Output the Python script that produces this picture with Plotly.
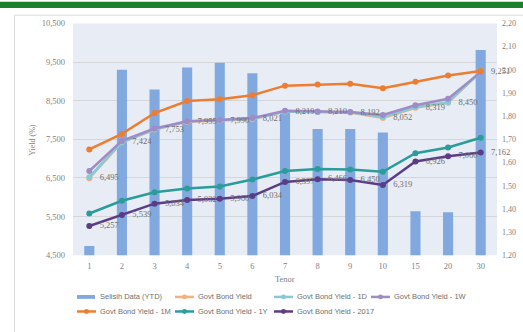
import plotly.graph_objects as go

W, H = 523, 332

tenors = ["1", "2", "3", "4", "5", "6", "7", "8", "9", "10", "15", "20", "30"]
selisih_ytd = [1.24, 2.00, 1.915, 2.01, 2.03, 1.985, 1.82, 1.745, 1.745, 1.73, 1.39, 1.385, 2.085]
yield_now = [6.495, 7.424, 7.753, 7.955, 7.990, 8.021, 8.219, 8.210, 8.192, 8.052, 8.319, 8.450, 9.251]
yield_1d = [6.52, 7.43, 7.76, 7.96, 8.00, 8.03, 8.22, 8.21, 8.20, 8.08, 8.33, 8.46, 9.25]
yield_1w = [6.68, 7.46, 7.78, 7.97, 8.00, 8.05, 8.24, 8.22, 8.21, 8.13, 8.38, 8.55, 9.24]
yield_1m = [7.24, 7.64, 8.18, 8.49, 8.54, 8.64, 8.89, 8.92, 8.94, 8.82, 8.99, 9.15, 9.27]
yield_1y = [5.58, 5.91, 6.13, 6.23, 6.28, 6.46, 6.68, 6.73, 6.72, 6.66, 7.14, 7.29, 7.54]
yield_2017 = [5.257, 5.539, 5.834, 5.932, 5.960, 6.034, 6.397, 6.466, 6.450, 6.319, 6.926, 7.060, 7.162]

left_ticks = [4.5, 5.5, 6.5, 7.5, 8.5, 9.5, 10.5]
left_labels = ["4,500", "5,500", "6,500", "7,500", "8,500", "9,500", "10,500"]
right_ticks = [1.2, 1.3, 1.4, 1.5, 1.6, 1.7, 1.8, 1.9, 2.0, 2.1, 2.2]
right_labels = ["1,20", "1,30", "1,40", "1,50", "1,60", "1,70", "1,80", "1,90", "2,00", "2,10", "2,20"]

C_BAR = "#82A9DF"
C_NOW = "#F5B07C"
C_1D = "#86CAD6"
C_1W = "#9F8BC6"
C_1M = "#ED7D31"
C_1Y = "#2A9C9A"
C_2017 = "#5B3D87"
GRAY = "#7F7F7F"
SERIF = "Liberation Serif"
SANS = "Liberation Sans"


def fmt(v):
    return f"{v:.3f}".replace(".", ",")


def px_x(x):
    return x / W


def px_y(y):
    return 1 - y / H


fig = go.Figure()
fig.add_trace(go.Bar(x=tenors, y=selisih_ytd, yaxis="y", marker=dict(color=C_BAR, line=dict(width=0)),
                     width=0.31, name="Selisih Data (YTD)"))

series = [
    ("Govt Bond Yield", yield_now, C_NOW),
    ("Govt Bond Yield - 1D", yield_1d, C_1D),
    ("Govt Bond Yield - 1W", yield_1w, C_1W),
    ("Govt Bond Yield - 1M", yield_1m, C_1M),
    ("Govt Bond Yield - 1Y", yield_1y, C_1Y),
    ("Govt Bond Yield - 2017", yield_2017, C_2017),
]
for name, vals, col in series:
    fig.add_trace(go.Scatter(x=tenors, y=vals, yaxis="y2", mode="lines+markers", name=name,
                             line=dict(color=col, width=2.5), marker=dict(color=col, size=6)))

for vals in (yield_now, yield_2017):
    fig.add_trace(go.Scatter(x=tenors, y=vals, yaxis="y2", mode="markers+text", cliponaxis=False,
                             marker=dict(size=15, color="rgba(0,0,0,0)"),
                             text=[fmt(v) for v in vals], textposition="middle right",
                             textfont=dict(family=SERIF, size=8.5, color="#6F6F6F"),
                             showlegend=False, hoverinfo="skip"))

shapes = []
annotations = []
# outer frame and green top band
shapes.append(dict(type="rect", xref="paper", yref="paper", x0=px_x(14.5), x1=1.02, y0=-0.02, y1=px_y(10.5),
                   line=dict(color="#D9D9D9", width=1), fillcolor="rgba(0,0,0,0)", layer="below"))
shapes.append(dict(type="rect", xref="paper", yref="paper", x0=0, x1=1, y0=px_y(3), y1=1.01,
                   line=dict(width=0), fillcolor="#1E7F2C"))

# manual legend
legend_items = [
    ("bar", "Selisih Data (YTD)", C_BAR, 77, 301),
    ("line", "Govt Bond Yield", C_NOW, 175, 301),
    ("line", "Govt Bond Yield - 1D", C_1D, 274, 301),
    ("line", "Govt Bond Yield - 1W", C_1W, 371, 301),
    ("line", "Govt Bond Yield - 1M", C_1M, 77, 316),
    ("line", "Govt Bond Yield - 1Y", C_1Y, 175, 316),
    ("line", "Govt Bond Yield - 2017", C_2017, 274, 316),
]
for kind, label, col, x, y in legend_items:
    if kind == "bar":
        shapes.append(dict(type="rect", xref="paper", yref="paper", x0=px_x(x), x1=px_x(x + 18),
                           y0=px_y(y + 2), y1=px_y(y - 2), line=dict(width=0), fillcolor=col))
    else:
        shapes.append(dict(type="line", xref="paper", yref="paper", x0=px_x(x), x1=px_x(x + 19),
                           y0=px_y(y), y1=px_y(y), line=dict(color=col, width=2.5)))
        shapes.append(dict(type="circle", xref="paper", yref="paper", x0=px_x(x + 7), x1=px_x(x + 12),
                           y0=px_y(y + 2.5), y1=px_y(y - 2.5), line=dict(width=0), fillcolor=col))
    annotations.append(dict(xref="paper", yref="paper", x=px_x(x + 21), y=px_y(y), text=label,
                            showarrow=False, xanchor="left", yanchor="middle",
                            font=dict(family=SANS, size=7.5, color="#6F6F6F")))

annotations.append(dict(xref="paper", yref="paper", x=px_x(285), y=px_y(283), text="Tenor", showarrow=False,
                        xanchor="center", yanchor="middle", font=dict(family=SERIF, size=8.5, color=GRAY)))
annotations.append(dict(xref="paper", yref="paper", x=px_x(33), y=px_y(139), text="Yield (%)", showarrow=False,
                        textangle=-90, xanchor="center", yanchor="middle",
                        font=dict(family=SERIF, size=8, color=GRAY)))

fig.update_layout(
    width=W, height=H,
    margin=dict(l=0, r=0, t=0, b=0),
    paper_bgcolor="white",
    plot_bgcolor="#E8ECF4",
    showlegend=False,
    bargap=0.69,
    xaxis=dict(domain=[px_x(73), px_x(497)], type="category", range=[-0.5, 12.5], showgrid=False,
               zeroline=False, showline=False, ticks="", ticklabelstandoff=4,
               tickfont=dict(family=SERIF, size=8.5, color=GRAY), anchor="y"),
    yaxis=dict(domain=[px_y(258), px_y(19)], side="right", range=[1.2, 2.2], tickvals=right_ticks,
               ticktext=right_labels, showgrid=False, zeroline=False, showline=False, ticks="",
               ticklabelstandoff=4, tickfont=dict(family=SERIF, size=8, color=GRAY)),
    yaxis2=dict(overlaying="y", side="left", range=[4.5, 10.5], tickvals=left_ticks, ticktext=left_labels,
                showgrid=True, gridcolor="#D4D6DA", gridwidth=1, zeroline=False, showline=False, ticks="",
                ticklabelstandoff=7, tickfont=dict(family=SERIF, size=8.5, color=GRAY), anchor="x"),
    shapes=shapes,
    annotations=annotations,
)

fig.write_html("out.html")
